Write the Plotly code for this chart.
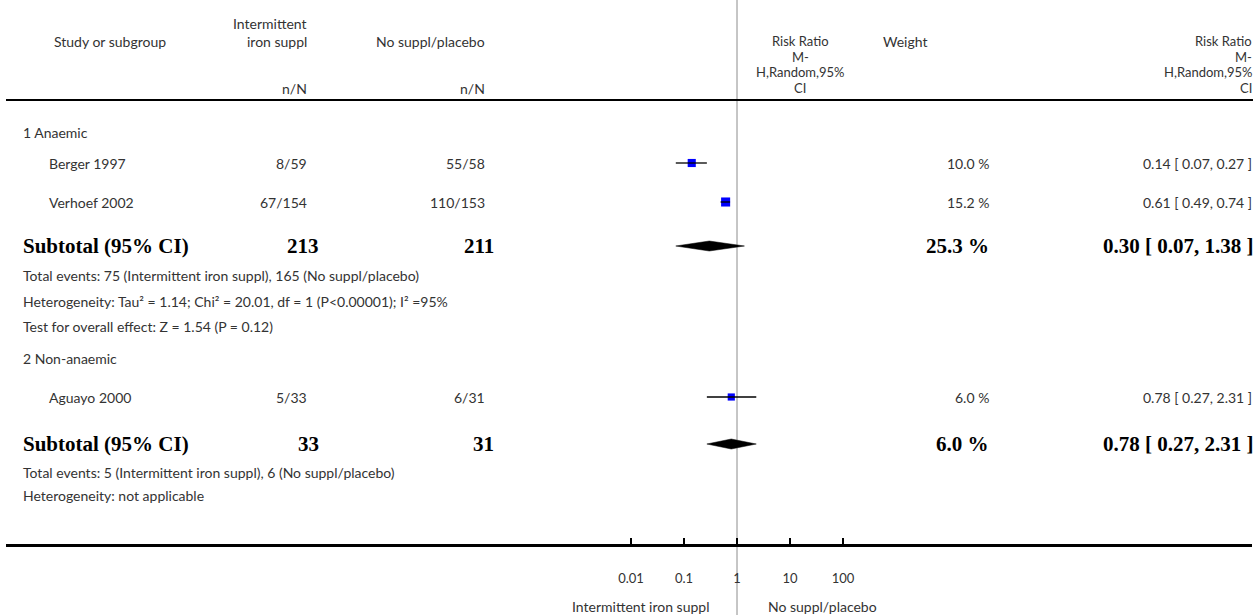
import plotly.graph_objects as go
import numpy as np

W, H = 1259, 615

# ---- data -------------------------------------------------------------
studies = ["Berger 1997", "Verhoef 2002", "Aguayo 2000"]
treat_events = [8, 67, 5]
treat_total = [59, 154, 33]
ctrl_events = [55, 110, 6]
ctrl_total = [58, 153, 31]
study_rr = [0.14, 0.61, 0.78]
study_lo = [0.07, 0.49, 0.27]
study_hi = [0.27, 0.74, 2.31]
study_weight = [10.0, 15.2, 6.0]

subgroups = ["1 Anaemic", "2 Non-anaemic"]
subgroup_members = [[0, 1], [2]]
sub_rr = [0.30, 0.78]
sub_lo = [0.07, 0.27]
sub_hi = [1.38, 2.31]
sub_weight = [25.3, 6.0]
sub_stats = [
    ["Heterogeneity: Tau² = 1.14; Chi² = 20.01, df = 1 (P<0.00001); I² =95%",
     "Test for overall effect: Z = 1.54 (P = 0.12)"],
    ["Heterogeneity: not applicable"],
]

tick_vals = [0.01, 0.1, 1, 10, 100]
tick_text = ["0.01", "0.1", "1", "10", "100"]
favours = ["Intermittent iron suppl", "No suppl/placebo"]
rr_header = ["Risk Ratio", "M-", "H,Random,95%", "CI"]

# ---- layout geometry (pixels) -----------------------------------------
ROW_Y = [132, 163, 202, 246, 275, 301, 326, 358, 397, 444, 472, 495]
HEAD_Y = [41, 57, 72, 88]
AXIS_Y = 545
CENTER_PX = 737          # x pixel of RR = 1
DECADE_PX = 53           # pixels per decade
AX_L, AX_R = 6, 1252

COL_TREAT = 308
COL_CTRL = 486
COL_WEIGHT = 990
COL_RR = 1253
COL_RRHEAD = 800

SANS = "Lato"
SERIF = "Liberation Serif"
GREY = "#333333"
FS = 14
FS_BOLD = 21

def px(x):
    return x / W

log_lo = (AX_L - CENTER_PX) / DECADE_PX
log_hi = (AX_R - CENTER_PX) / DECADE_PX

fig = go.Figure()
ann = []

def text(x, y, s, anchor="left", size=FS, font=SANS, color=GREY, bold=False):
    ann.append(dict(x=px(x), y=y, xref="paper", yref="y", text=s,
                    showarrow=False, xanchor=anchor, yanchor="middle",
                    borderpad=0,
                    font=dict(family=font, size=size, color=color,
                              weight="bold" if bold else "normal")))

# header
text(110, HEAD_Y[0], "Study or subgroup", "center")
text(COL_TREAT, 23, "Intermittent", "right")
text(COL_TREAT, HEAD_Y[0], "iron suppl", "right")
text(COL_TREAT, HEAD_Y[3], "n/N", "right")
text(COL_CTRL, HEAD_Y[0], "No suppl/placebo", "right")
text(COL_CTRL, HEAD_Y[3], "n/N", "right")
for y, s in zip(HEAD_Y, rr_header):
    text(COL_RRHEAD, y, s, "center", size=13)
    text(COL_RR, y, s, "right", size=13)
text(905, HEAD_Y[0], "Weight", "center")

# body rows
r = 0
for g, name in enumerate(subgroups):
    text(22, ROW_Y[r], name)
    r += 1
    for i in subgroup_members[g]:
        y = ROW_Y[r]
        text(48, y, studies[i])
        text(COL_TREAT, y, f"{treat_events[i]}/{treat_total[i]}", "right")
        text(COL_CTRL, y, f"{ctrl_events[i]}/{ctrl_total[i]}", "right")
        text(COL_WEIGHT, y, f"{study_weight[i]:.1f} %", "right")
        text(COL_RR, y, f"{study_rr[i]:.2f} [ {study_lo[i]:.2f}, {study_hi[i]:.2f} ]", "right")
        # study box then its confidence interval
        fig.add_trace(go.Scatter(
            x=[study_rr[i]], y=[y], mode="markers", hoverinfo="skip",
            marker=dict(symbol="square", color="#0000ff",
                        size=4 + 1.3 * np.sqrt(study_weight[i]), line=dict(width=0))))
        fig.add_trace(go.Scatter(
            x=[study_lo[i], study_hi[i]], y=[y, y], mode="lines",
            hoverinfo="skip", line=dict(color="black", width=1.3)))
        r += 1
    # subtotal row
    y = ROW_Y[r]
    t_tot = sum(treat_total[i] for i in subgroup_members[g])
    c_tot = sum(ctrl_total[i] for i in subgroup_members[g])
    bold = dict(size=FS_BOLD, font=SERIF, color="black", bold=True)
    text(22, y, "Subtotal (95% CI)", **bold)
    text(COL_TREAT + 12, y, f"{t_tot}", "right", **bold)
    text(COL_CTRL + 9, y, f"{c_tot}", "right", **bold)
    text(COL_WEIGHT, y, f"{sub_weight[g]:.1f} %", "right", **bold)
    text(COL_RR + 2, y, f"{sub_rr[g]:.2f} [ {sub_lo[g]:.2f}, {sub_hi[g]:.2f} ]", "right", **bold)
    fig.add_trace(go.Scatter(
        x=[sub_lo[g], sub_rr[g], sub_hi[g], sub_rr[g], sub_lo[g]],
        y=[y, y - 5, y, y + 5, y], mode="lines", fill="toself",
        fillcolor="black", hoverinfo="skip", line=dict(color="black", width=0.5)))
    r += 1
    t_ev = sum(treat_events[i] for i in subgroup_members[g])
    c_ev = sum(ctrl_events[i] for i in subgroup_members[g])
    text(22, ROW_Y[r], f"Total events: {t_ev} ({favours[0]}), {c_ev} ({favours[1]})")
    r += 1
    for s in sub_stats[g]:
        text(22, ROW_Y[r], s)
        r += 1

# favours labels under the axis
text(CENTER_PX - 27, 606, favours[0], "right")
text(CENTER_PX + 30, 606, favours[1], "left")

fig.update_layout(
    width=W, height=H, margin=dict(l=0, r=0, t=0, b=0),
    paper_bgcolor="white", plot_bgcolor="white", showlegend=False,
    annotations=ann,
    xaxis=dict(type="log", range=[log_lo, log_hi], domain=[px(AX_L), px(AX_R)],
               anchor="free", position=1 - AXIS_Y / H,
               showline=True, linewidth=3, linecolor="black",
               ticks="inside", ticklen=6, tickwidth=2, tickcolor="black",
               tickvals=tick_vals, ticktext=tick_text, ticklabelstandoff=20,
               tickfont=dict(family=SANS, size=13, color=GREY),
               showgrid=False, zeroline=False, fixedrange=True),
    yaxis=dict(range=[H, 0], domain=[0, 1], visible=False, fixedrange=True),
    shapes=[
        dict(type="line", xref="x", yref="paper", x0=1, x1=1, y0=0, y1=1,
             line=dict(color="#8c8c8c", width=1), layer="below"),
        dict(type="line", xref="paper", yref="y", x0=px(6), x1=px(1253), y0=100, y1=100,
             line=dict(color="black", width=2)),
    ],
)

fig.write_html("out.html")
